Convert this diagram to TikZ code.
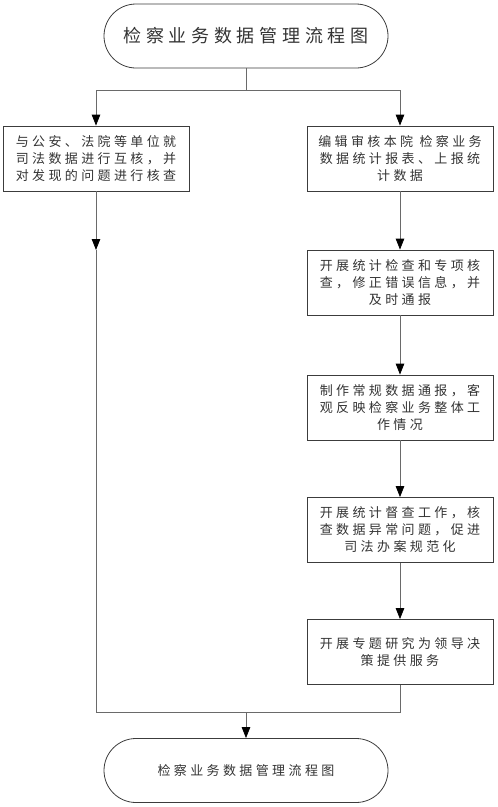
\documentclass[tikz,border=0pt]{standalone}
\usepackage{fontspec}
\newfontfamily\cjk[LetterSpace=26]{Noto Sans CJK SC}
\usetikzlibrary{arrows.meta}
\definecolor{linec}{HTML}{6A6A6A}
\definecolor{boxc}{HTML}{3C3C3C}
\definecolor{txtc}{HTML}{333333}
\begin{document}
\begin{tikzpicture}[x=1pt,y=-1pt,
  stepbox/.style={draw=boxc, line width=0.8pt, rectangle, minimum width=186pt, minimum height=65pt,
     align=center, inner sep=0pt, font=\cjk\fontsize{13pt}{17pt}\selectfont, text=txtc},
  termbox/.style={draw=boxc, line width=0.8pt, rounded corners=32pt, minimum width=284pt, minimum height=64pt,
     align=center, inner sep=0pt, text=txtc},
  conn/.style={draw=linec, line width=0.8pt},
  arr/.style={conn, -{Triangle[length=11pt,width=8.5pt,fill=black,color=black]}}]
\useasboundingbox (0,0) rectangle (498,807);
\node[termbox, font=\cjk\fontsize{18pt}{22pt}\selectfont] (top) at (246,36) {检察业务数据管理流程图};
\node[stepbox] (l1) at (96,158.5) {与公安、法院等单位就\\司法数据进行互核，并\\对发现的问题进行核查};
\node[stepbox] (r1) at (400,158.5) {编辑审核本院 检察业务\\数据统计报表、上报统\\计数据};
\node[stepbox] (r2) at (400,282.5) {开展统计检查和专项核\\查，修正错误信息，并\\及时通报};
\node[stepbox] (r3) at (400,407.5) {制作常规数据通报，客\\观反映检察业务整体工\\作情况};
\node[stepbox] (r4) at (400,530) {开展统计督查工作，核\\查数据异常问题，促进\\司法办案规范化};
\node[stepbox] (r5) at (400,652) {开展专题研究为领导决\\策提供服务};
\node[termbox, font=\cjk\fontsize{13pt}{17pt}\selectfont] (bot) at (246,770.5) {检察业务数据管理流程图};
\coordinate (split) at (246,90);
\coordinate (lmid) at (96,250);
\coordinate (ljoin) at (96,712);
\coordinate (rjoin) at (400,712);
\coordinate (merge) at (246,712);
\draw[conn] (top) -- (split);
\draw[arr] (split) -| (l1);
\draw[arr] (split) -| (r1);
\draw[arr] (l1) -- (lmid);
\draw[conn] (lmid) -- (ljoin) -- (rjoin) -- (r5);
\draw[arr] (r1) -- (r2);
\draw[arr] (r2) -- (r3);
\draw[arr] (r3) -- (r4);
\draw[arr] (r4) -- (r5);
\draw[arr] (merge) -- (bot);
\end{tikzpicture}
\end{document}
